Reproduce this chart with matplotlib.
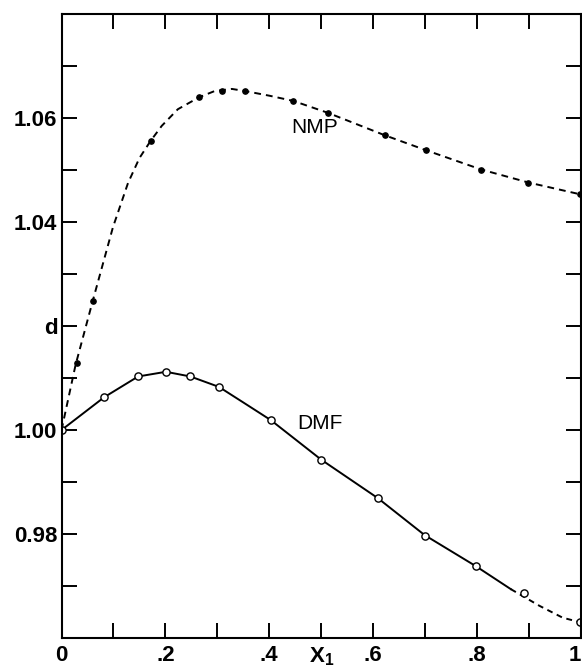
import matplotlib
matplotlib.use('Agg')
import matplotlib.pyplot as plt
import numpy as np

plt.rcParams['font.family'] = ['Liberation Sans', 'DejaVu Sans']
plt.rcParams['mathtext.fontset'] = 'custom'
plt.rcParams['mathtext.rm'] = 'Liberation Sans:bold'
plt.rcParams['mathtext.it'] = 'Liberation Sans:bold'

# measured points, NMP (filled) and DMF (open)
nmp_x = [0.0, 0.029, 0.061, 0.172, 0.265, 0.308, 0.354, 0.446, 0.513, 0.622, 0.702, 0.808, 0.899, 0.998]
nmp_d = [1.000, 1.0129, 1.0248, 1.0556, 1.0640, 1.0652, 1.0652, 1.0633, 1.0610, 1.0567, 1.0538, 1.0501, 1.0476, 1.0454]
dmf_x = [0.0, 0.082, 0.1475, 0.201, 0.248, 0.303, 0.403, 0.500, 0.609, 0.699, 0.798, 0.891, 0.998]
dmf_d = [1.000, 1.0063, 1.0103, 1.0112, 1.0103, 1.0083, 1.0019, 0.9943, 0.9869, 0.9797, 0.9738, 0.9686, 0.9630]

# drawn curves
nmp_cx = [0.0, 0.027, 0.060, 0.099, 0.128, 0.150, 0.1715, 0.193, 0.224, 0.265, 0.295, 0.328, 0.353,
          0.40, 0.446, 0.513, 0.622, 0.702, 0.808, 0.899, 1.0]
nmp_cd = [1.000, 1.0125, 1.0248, 1.0390, 1.0475, 1.0523, 1.0556, 1.0585, 1.0617, 1.0640, 1.0652, 1.0656, 1.0652,
          1.0643, 1.0633, 1.0610, 1.0567, 1.0538, 1.0501, 1.0476, 1.0453]
dmf_cx = [0.0, 0.082, 0.1475, 0.201, 0.248, 0.303, 0.35, 0.403, 0.500, 0.609, 0.699, 0.798, 0.865]
dmf_cd = [1.000, 1.0063, 1.0103, 1.0112, 1.0103, 1.0083, 1.0053, 1.0019, 0.9943, 0.9869, 0.9798, 0.9738, 0.9694]
dmf_tx = [0.865, 0.92, 0.965, 1.0]
dmf_td = [0.9694, 0.9662, 0.9639, 0.9630]

xticks = [0, .1, .2, .3, .4, .5, .6, .7, .8, .9, 1]
xlabels = ['0', '', '.2', '', '.4', 'X$_1$', '.6', '', '.8', '', '1']
yticks = [.97, .98, .99, 1.00, 1.01, 1.02, 1.03, 1.04, 1.05, 1.06, 1.07]
ylabels = ['', '0.98', '', '1.00', '', 'd', '', '1.04', '', '1.06', '']

fig = plt.figure(figsize=(5.82, 6.69), dpi=100)
ax = fig.add_axes([0.1057, 0.0463, 0.8925, 0.9327])

ax.plot(nmp_cx, nmp_cd, color='black', lw=1.4, ls=(0, (3.5, 2.6)))
ax.plot(dmf_cx, dmf_cd, color='black', lw=1.4, ls='-')
ax.plot(dmf_tx, dmf_td, color='black', lw=1.4, ls=(0, (3.0, 2.4)))

ax.plot(nmp_x, nmp_d, 'o', color='black', ms=3.8)
ax.plot(dmf_x, dmf_d, 'o', mfc='white', mec='black', mew=1.0, ms=5.2)

ax.text(0.487, 1.0581, 'NMP', fontsize=15, ha='center', va='center')
ax.text(0.497, 1.0013, 'DMF', fontsize=15, ha='center', va='center')

ax.set_xlim(0, 1)
ax.set_ylim(0.96, 1.08)
ax.set_xticks(xticks)
ax.set_xticklabels(xlabels)
ax.set_yticks(yticks)
ax.set_yticklabels(ylabels)
ax.tick_params(direction='in', top=True, right=True, length=11, width=1.4,
               labelsize=16, pad=5)
ax.tick_params(axis='y', pad=3)
for lab in ax.get_xticklabels() + ax.get_yticklabels():
    lab.set_fontweight('bold')
# last x label sits on the right edge
ax.get_xticklabels()[-1].set_horizontalalignment('right')
for s in ax.spines.values():
    s.set_linewidth(1.5)

fig.savefig('out.png', dpi=100)
